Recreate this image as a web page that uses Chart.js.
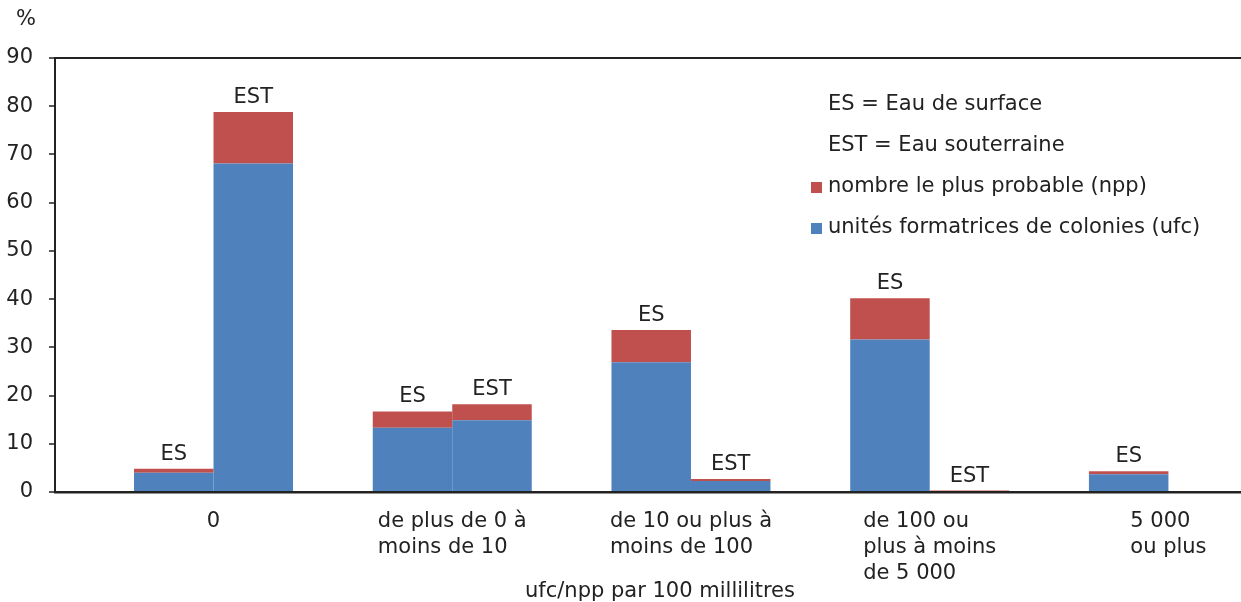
<!DOCTYPE html>
<html lang="fr">
<head>
<meta charset="utf-8">
<title>ufc/npp par 100 millilitres</title>
<script src="https://cdn.jsdelivr.net/npm/chart.js@4.4.1/dist/chart.umd.min.js"></script>
<style>
  html, body { margin: 0; padding: 0; background: #fff; }
  #wrap { width: 1241px; height: 602px; position: relative; }
</style>
</head>
<body>
<div id="wrap"><canvas id="coliChart"></canvas></div>
<script>
// Categories (one line per array entry)
const categories = [
    ['0'],
    ['de plus de 0 à', 'moins de 10'],
    ['de 10 ou plus à', 'moins de 100'],
    ['de 100 ou', 'plus à moins', 'de 5 000'],
    ['5 000', 'ou plus']
];
const stackNames = ['ES', 'EST'];
const legendNotes = ['ES = Eau de surface', 'EST = Eau souterraine'];

// Percent of samples
const esUfc = [4.0, 13.3, 26.9, 31.6, 3.7];
const esNpp = [0.8, 3.4, 6.7, 8.6, 0.6];
const estUfc = [68.1, 14.9, 2.3, 0, 0];
const estNpp = [10.7, 3.3, 0.4, 0.3, 0];

const yTicks = [0, 10, 20, 30, 40, 50, 60, 70, 80, 90];

const blue = '#4F81BD';
const red = '#C0504D';
const textColor = '#222';
const fontFamily = '"DejaVu Sans", Verdana, sans-serif';
const fontSize = 21;

const toPoints = arr => arr.map((v, i) => ({ x: i, y: v }));

// Legend, stack labels and wrapped category labels
const annotate = {
    id: 'annotate',
    afterDraw(chart) {
        const { ctx, chartArea, scales } = chart;
        ctx.save();
        ctx.fillStyle = textColor;
        ctx.font = fontSize + 'px ' + fontFamily;

        // ES / EST above each stack
        ctx.textAlign = 'center';
        ctx.textBaseline = 'alphabetic';
        [[1, esUfc, esNpp, 0], [3, estUfc, estNpp, 1]].forEach(([di, a, b, s]) => {
            chart.getDatasetMeta(di).data.forEach((bar, i) => {
                if (a[i] + b[i] <= 0) return;
                ctx.fillText(stackNames[s], bar.x, bar.y - 9);
            });
        });

        // category labels, lines left-aligned inside a centred block
        ctx.textAlign = 'left';
        ctx.textBaseline = 'middle';
        categories.forEach((lines, i) => {
            const cx = scales.x.getPixelForValue(i);
            const w = Math.max(...lines.map(l => ctx.measureText(l).width));
            lines.forEach((l, k) => {
                ctx.fillText(l, cx - w / 2, chartArea.bottom + 30 + k * 26);
            });
        });

        // axis titles
        ctx.textAlign = 'center';
        ctx.fillText('ufc/npp par 100 millilitres', 660, 592);
        ctx.fillText('%', 26, 20);

        // legend
        ctx.textAlign = 'left';
        const lx = 828;
        legendNotes.forEach((t, k) => ctx.fillText(t, lx, 105 + k * 41));
        [chart.data.datasets[1], chart.data.datasets[0]].forEach((ds, k) => {
            const y = 187 + k * 41;
            ctx.fillStyle = ds.backgroundColor;
            ctx.fillRect(lx - 17, y - 5, 11, 11);
            ctx.fillStyle = textColor;
            ctx.fillText(ds.label, lx, y);
        });
        ctx.restore();
    }
};

const ctx = document.getElementById('coliChart').getContext('2d');
new Chart(ctx, {
    type: 'bar',
    data: {
        datasets: [
            { label: 'unités formatrices de colonies (ufc)', data: toPoints(esUfc), stack: 'ES', backgroundColor: blue },
            { label: 'nombre le plus probable (npp)', data: toPoints(esNpp), stack: 'ES', backgroundColor: red },
            { label: 'unités formatrices de colonies (ufc)', data: toPoints(estUfc), stack: 'EST', backgroundColor: blue },
            { label: 'nombre le plus probable (npp)', data: toPoints(estNpp), stack: 'EST', backgroundColor: red }
        ]
    },
    options: {
        responsive: true,
        maintainAspectRatio: false,
        animation: false,
        layout: { padding: { top: 58, left: 0, right: 0, bottom: 0 } },
        categoryPercentage: 0.666,
        barPercentage: 1,
        borderWidth: 0,
        plugins: {
            legend: { display: false },
            tooltip: { enabled: false }
        },
        scales: {
            x: {
                type: 'linear',
                stacked: true,
                offset: false,
                min: -0.664,
                max: 4.304,
                z: 1,
                afterBuildTicks: s => { s.ticks = categories.map((_, i) => ({ value: i })); },
                afterFit: s => { s.height = 110; },
                ticks: { display: false },
                grid: { display: false },
                border: { display: true, color: textColor, width: 2.5 }
            },
            y: {
                stacked: true,
                min: 0,
                max: 90,
                afterBuildTicks: s => { s.ticks = yTicks.map(v => ({ value: v })); },
                afterFit: s => { s.width = 55; },
                ticks: {
                    color: textColor,
                    padding: 16,
                    font: { family: fontFamily, size: fontSize }
                },
                grid: {
                    drawOnChartArea: true,
                    color: c => (c.tick && c.tick.value === 90) ? textColor : 'rgba(0,0,0,0)',
                    lineWidth: 2,
                    tickColor: textColor,
                    tickLength: 6,
                    tickWidth: 1.5
                },
                border: { display: true, color: textColor, width: 2 }
            }
        }
    },
    plugins: [annotate]
});
</script>
</body>
</html>
